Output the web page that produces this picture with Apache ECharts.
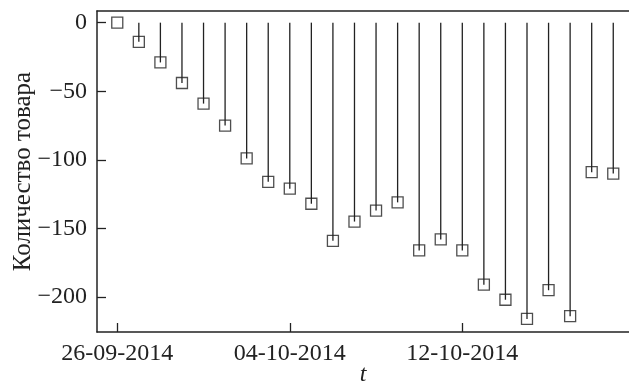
<!DOCTYPE html>
<html>
<head>
<meta charset="utf-8">
<script src="https://cdn.jsdelivr.net/npm/echarts@6/dist/echarts.min.js"></script>
<style>html,body{margin:0;padding:0;background:#fff}#c{width:629px;height:385px}</style>
</head>
<body>
<div id="c"></div>
<script>
var dates = ['2014-09-26','2014-09-27','2014-09-28','2014-09-29','2014-09-30','2014-10-01','2014-10-02','2014-10-03','2014-10-04','2014-10-05','2014-10-06','2014-10-07','2014-10-08','2014-10-09','2014-10-10','2014-10-11','2014-10-12','2014-10-13','2014-10-14','2014-10-15','2014-10-16','2014-10-17','2014-10-18','2014-10-19'];
var values = [0,-14,-29,-44,-59,-75,-99,-116,-121,-132,-159,-145,-137,-131,-166,-158,-166,-191,-202,-216,-195,-214,-109,-110];
var xTickDates = ['2014-09-26','2014-10-04','2014-10-12'];
var yTicks = [0,-50,-100,-150,-200];

var DAY = 86400000;
var base = Date.UTC(2014, 8, 26);
function dayNum(s){ var p = s.split('-'); return (Date.UTC(+p[0], +p[1]-1, +p[2]) - base) / DAY; }
function fmt(d){
  var t = new Date(base + d*DAY);
  var dd = ('0'+t.getUTCDate()).slice(-2), mm = ('0'+(t.getUTCMonth()+1)).slice(-2);
  return dd + '-' + mm + '-' + t.getUTCFullYear();
}
var pts = dates.map(function(d,i){ return [dayNum(d), values[i]]; });
var xTicks = xTickDates.map(dayNum);

var font = 'Liberation Serif';
var ink = '#222';
var chart = echarts.init(document.getElementById('c'));
chart.setOption({
  animation: false,
  grid: {left: 97, right: 0, top: 11, bottom: 53, containLabel: false, outerBoundsMode: 'none'},
  xAxis: [{
    type: 'value', min: -0.94, max: 23.73,
    name: 't', nameLocation: 'middle', nameGap: 31, nameMoveOverlap: false,
    nameTextStyle: {fontFamily: font, fontSize: 24, fontStyle: 'italic', color: ink},
    axisLine: {show: true, onZero: false, lineStyle: {color: ink, width: 1.5}},
    axisTick: {show: true, inside: true, length: 9, customValues: xTicks, lineStyle: {color: ink, width: 1.3}},
    axisLabel: {customValues: xTicks, formatter: function(v){ return fmt(v); }, fontFamily: font, fontSize: 24, color: ink, margin: 10},
    splitLine: {show: false}
  }, {
    type: 'value', position: 'top', min: -0.94, max: 23.73,
    axisLine: {show: true, onZero: false, lineStyle: {color: ink, width: 1.5}},
    axisTick: {show: false}, axisLabel: {show: false}, splitLine: {show: false}
  }],
  yAxis: {
    type: 'value', min: -225.5, max: 8.5,
    name: 'Количество товара', nameLocation: 'middle', nameGap: 61, nameMoveOverlap: false,
    nameTextStyle: {fontFamily: font, fontSize: 25, color: ink},
    axisLine: {show: true, onZero: false, lineStyle: {color: ink, width: 1.5}},
    axisTick: {show: true, inside: true, length: 9, customValues: yTicks, lineStyle: {color: ink, width: 1.3}},
    axisLabel: {customValues: yTicks, formatter: function(v){ return v < 0 ? '\u2212' + (-v) : String(v); }, fontFamily: font, fontSize: 24, color: ink, margin: 10},
    splitLine: {show: false}
  },
  series: [{
    type: 'bar', data: pts, barWidth: 1.3, itemStyle: {color: ink}, silent: true
  }, {
    type: 'scatter', data: pts, symbol: 'rect', symbolSize: 11,
    itemStyle: {color: 'rgba(0,0,0,0)', borderColor: ink, borderWidth: 1.3}, z: 3
  }]
});
</script>
</body>
</html>
